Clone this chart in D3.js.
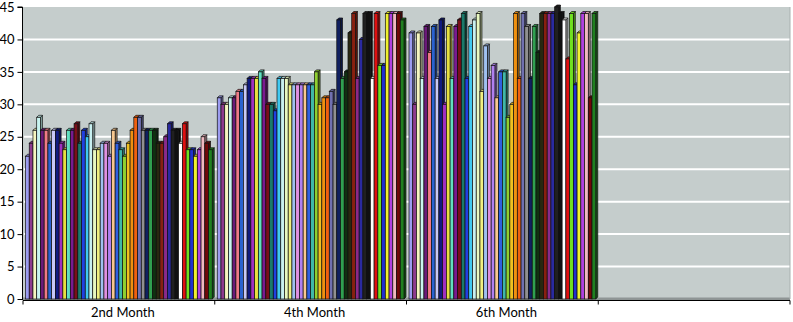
<!DOCTYPE html>
<html>
<head>
<meta charset="utf-8">
<script src="https://cdn.jsdelivr.net/npm/d3@7"></script>
<style>
  body { margin: 0; background: #fff; }
  svg { display: block; }
  text { font-family: Lato, "Open Sans", sans-serif; fill: #000; }
</style>
</head>
<body>
<div id="chart"></div>
<script>
var width = 793, height = 322;

// categories on the x axis (the last one is an empty slot)
const months = ["2nd Month", "4th Month", "6th Month", ""];
const yTicks = [0, 5, 10, 15, 20, 25, 30, 35, 40, 45];

// one value per series
const month2 = [22,24,26,28,26,26,24,26,26,24, 23,26,26,27,24,26,25,27,23,23,
                24,24,22,26,24,23,22,24,26,28, 28,26,26,26,26,24,24,25,27,26,
                26,24,27,23,23,22,23,25,24,23];
const month4 = [31,30,30,31,31,32,32,33,34,34, 34,35,34,30,30,29,34,34,34,33,
                33,33,33,33,33,33,35,30,31,31, 32,30,43,34,35,41,44,34,40,44,
                44,34,44,36,36,44,44,44,44,43];
const month6 = [41,30,41,34,42,38,42,34,43,30, 42,34,42,43,44,34,42,43,44,32,
                39,34,36,31,35,35,28,30,44,34, 44,42,34,42,38,44,44,44,44,45,
                44,43,37,44,33,41,44,44,31,44];

const seriesColors = [
  "#9c9cf0","#8e3b8e","#f6f6c0","#c8f4f0","#6a1a78","#f07a86","#2a62d0","#c8c8f6","#101a80","#a030c0",
  "#e8e040","#60e0c0","#7a1a90","#7a0f1a","#1a7a6a","#2040e0","#40c8f0","#c8f0f0","#e8f8c0","#f0f080",
  "#a0c0f0","#e090e0","#b080f0","#f8c890","#3060e0","#40b8a8","#90d030","#f0c020","#f09010","#f06010",
  "#7070b0","#909090","#102060","#30a050","#103010","#282810","#882010","#8a2a8a","#2a2aa0","#202020",
  "#101010","#ffffff","#e01010","#70e020","#2030d0","#f0f030","#b040e0","#f0b8c0","#700808","#208020"
];

const values = [month2, month4, month6, []];

const svg = d3.select("#chart").append("svg")
    .attr("width", width)
    .attr("height", height);

const plotLeft = 23, plotRight = 790, plotTop = 7, plotBottom = 299;

var x = d3.scaleBand().domain(months).range([plotLeft, plotRight]).padding(0);
var inner = d3.scaleBand().domain(d3.range(seriesColors.length)).range([2.5, x.bandwidth() - 2.5]).padding(0);
var y = d3.scaleLinear().domain([0, 45]).range([plotBottom, plotTop]);

// back wall
svg.append("rect")
    .attr("x", plotLeft).attr("y", plotTop)
    .attr("width", plotRight - plotLeft).attr("height", plotBottom - plotTop)
    .attr("fill", "#c5cdcc");

// grid lines
svg.selectAll(".grid")
    .data(yTicks.filter(d => d > 0 && d < 45))
    .join("line")
    .attr("class", "grid")
    .attr("x1", plotLeft + 1).attr("x2", plotRight)
    .attr("y1", d => y(d)).attr("y2", d => y(d))
    .attr("stroke", "#ffffff").attr("stroke-width", 2);

// floor strip
svg.append("path")
    .attr("d", `M${plotLeft},${plotBottom - 1.5} L${plotRight},${plotBottom - 1.5} L${plotRight},${plotBottom + 1} L${plotLeft},${plotBottom + 1} Z`)
    .attr("fill", "#8f9595");
svg.append("line")
    .attr("x1", plotRight).attr("x2", plotRight).attr("y1", plotTop).attr("y2", plotBottom)
    .attr("stroke", "#a9b0b0").attr("stroke-width", 1);

// 3D columns, drawn left to right so each bar covers its neighbour's side
var dx = 2, dy = 2;
var bars = [];
values.forEach((vals, gi) => {
    vals.forEach((v, si) => {
        bars.push({month: months[gi], series: si, value: v});
    });
});

var g = svg.append("g").attr("class", "bars");
bars.forEach(d => {
    var x0 = x(d.month) + inner(d.series);
    var w = inner.bandwidth();
    var y0 = y(d.value), yb = y(0);
    var c = d3.color(seriesColors[d.series]);
    var bar = g.append("g");
    // right side
    bar.append("path")
        .attr("d", `M${x0 + w},${y0} L${x0 + w + dx},${y0 - dy} L${x0 + w + dx},${yb - dy} L${x0 + w},${yb} Z`)
        .attr("fill", c.darker(1.2))
        .attr("stroke", "#111").attr("stroke-width", 0.7);
    // top
    bar.append("path")
        .attr("d", `M${x0},${y0} L${x0 + dx},${y0 - dy} L${x0 + w + dx},${y0 - dy} L${x0 + w},${y0} Z`)
        .attr("fill", c.darker(0.3))
        .attr("stroke", "#111").attr("stroke-width", 0.7);
    // front
    bar.append("rect")
        .attr("x", x0).attr("y", y0)
        .attr("width", w).attr("height", yb - y0)
        .attr("fill", c)
        .attr("stroke", "#111").attr("stroke-width", 0.7);
});

// y axis
var yAxis = d3.axisLeft(y).tickValues(yTicks).tickSize(5).tickPadding(3);
var ya = svg.append("g")
    .attr("transform", `translate(${plotLeft - 0.5},0)`)
    .call(yAxis);
ya.select(".domain").attr("d", `M-5,${plotTop}H0V${plotBottom + 1}`).attr("stroke", "#000");
ya.selectAll(".tick line").attr("stroke", "#000");
ya.selectAll(".tick text").style("font-size", "13px").style("font-family", "Lato, sans-serif");

// x axis
var xa = svg.append("g").attr("transform", `translate(0,${plotBottom + 1.5})`);
xa.append("line")
    .attr("x1", plotLeft).attr("x2", plotRight)
    .attr("stroke", "#000");
xa.selectAll(".xtick")
    .data(months.map(m => x(m)).concat([plotRight]))
    .join("line")
    .attr("class", "xtick")
    .attr("x1", d => d).attr("x2", d => d)
    .attr("y1", 0).attr("y2", 4)
    .attr("stroke", "#000");
xa.selectAll(".xlabel")
    .data(months)
    .join("text")
    .attr("class", "xlabel")
    .attr("x", d => x(d) + x.bandwidth() / 2 + 4)
    .attr("y", 16)
    .attr("text-anchor", "middle")
    .style("font-size", "13px")
    .text(d => d);
</script>
</body>
</html>
